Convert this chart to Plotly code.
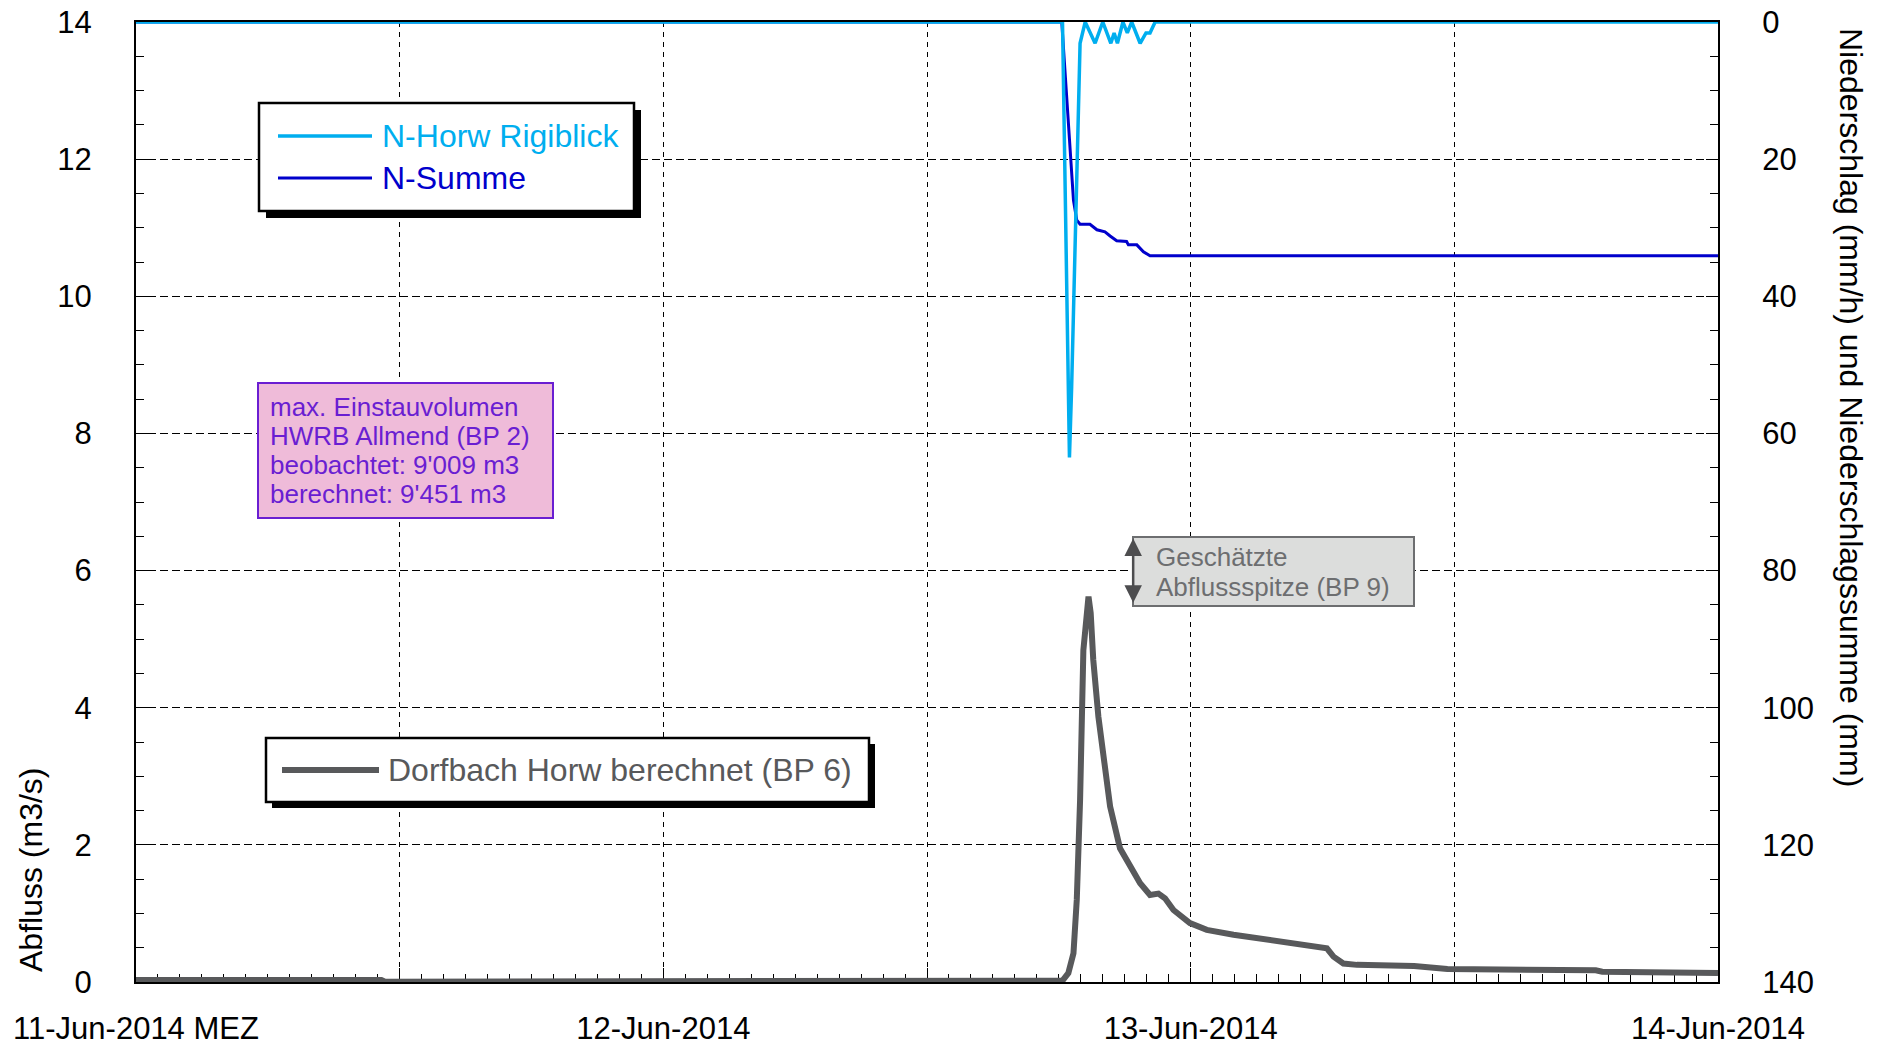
import plotly.graph_objects as go

# Abfluss Dorfbach Horw berechnet (BP 6) [m3/s]
q_time = [
    "2014-06-11 00:00", "2014-06-11 11:10", "2014-06-11 11:20", "2014-06-12 18:00",
    "2014-06-12 18:10", "2014-06-12 18:26", "2014-06-12 18:40", "2014-06-12 18:49",
    "2014-06-12 18:58", "2014-06-12 19:07", "2014-06-12 19:21", "2014-06-12 19:27",
    "2014-06-12 19:34", "2014-06-12 19:48", "2014-06-12 20:02", "2014-06-12 20:20",
    "2014-06-12 20:47", "2014-06-12 21:15", "2014-06-12 21:42", "2014-06-12 22:09",
    "2014-06-12 22:32", "2014-06-12 22:50", "2014-06-12 23:13", "2014-06-12 23:58",
    "2014-06-13 00:44", "2014-06-13 01:57", "2014-06-13 03:46", "2014-06-13 05:17",
    "2014-06-13 06:12", "2014-06-13 06:30", "2014-06-13 06:57", "2014-06-13 07:34",
    "2014-06-13 10:10", "2014-06-13 11:41", "2014-06-13 13:41", "2014-06-13 15:22",
    "2014-06-13 18:26", "2014-06-13 18:44", "2014-06-13 22:06", "2014-06-13 22:25",
    "2014-06-14 00:00",
]
q_val = [
    0.03, 0.03, 0.005, 0.005,
    0.02, 0.13, 0.42, 1.20,
    2.65, 4.84, 5.62, 5.38,
    4.70, 3.87, 3.24, 2.56,
    1.95, 1.68, 1.44, 1.27,
    1.29, 1.22, 1.05, 0.86,
    0.76, 0.69, 0.61, 0.54,
    0.49, 0.37, 0.27, 0.25,
    0.235, 0.19, 0.19, 0.17,
    0.17, 0.15, 0.15, 0.13,
    0.13,
]

# N-Horw Rigiblick [mm/h]
n_time = [
    "2014-06-11 00:00", "2014-06-12 18:10", "2014-06-12 18:29", "2014-06-12 18:35",
    "2014-06-12 18:58", "2014-06-12 19:12", "2014-06-12 19:39", "2014-06-12 20:00",
    "2014-06-12 20:22", "2014-06-12 20:31", "2014-06-12 20:40", "2014-06-12 20:55",
    "2014-06-12 21:07", "2014-06-12 21:19", "2014-06-12 21:42", "2014-06-12 21:58",
    "2014-06-12 22:09", "2014-06-12 22:23", "2014-06-14 00:00",
]
n_val = [
    0, 0, 63.5, 53.2,
    3.1, 0, 3.1, 0,
    3.1, 1.6, 3.1, 0,
    1.6, 0, 3.1, 1.6,
    1.6, 0, 0,
]

# N-Summe [mm]
s_time = [
    "2014-06-11 00:00", "2014-06-12 18:08", "2014-06-12 18:40", "2014-06-12 18:49",
    "2014-06-12 18:58", "2014-06-12 19:25", "2014-06-12 19:44", "2014-06-12 20:06",
    "2014-06-12 20:20", "2014-06-12 20:38", "2014-06-12 21:05", "2014-06-12 21:10",
    "2014-06-12 21:33", "2014-06-12 21:51", "2014-06-12 22:09", "2014-06-14 00:00",
]
s_val = [
    0, 0, 26.0, 28.9,
    29.5, 29.5, 30.3, 30.6,
    31.2, 31.9, 32.0, 32.5,
    32.5, 33.5, 34.1, 34.1,
]

x_ticks = ["2014-06-11 00:00", "2014-06-11 12:00", "2014-06-12 00:00", "2014-06-12 12:00",
           "2014-06-13 00:00", "2014-06-13 12:00", "2014-06-14 00:00"]
x_ticktext = ["11-Jun-2014 MEZ", "", "12-Jun-2014", "", "13-Jun-2014", "", "14-Jun-2014"]

# geschaetzte Abflussspitze (BP 9), Pfeil
peak_time = "2014-06-12 21:23"
peak_lo, peak_hi = 5.53, 6.49

LIGHT = "#00AEEF"
DARK = "#0000CC"
GRAY = "#58595B"
PURPLE = "#6A1ED2"
FONT = "Liberation Sans, Arial, sans-serif"

# plot area in pixels, used to place boxes
L, R, T, B = 136, 1718, 22, 982


def px(x):
    return (x - L) / (R - L)


def py(y):
    return (B - y) / (B - T)


fig = go.Figure()
fig.add_trace(go.Scatter(x=q_time, y=q_val, mode="lines", name="Dorfbach Horw berechnet (BP 6)",
                         line=dict(color=GRAY, width=6), showlegend=False))
fig.add_trace(go.Scatter(x=s_time, y=s_val, mode="lines", name="N-Summe", yaxis="y2",
                         line=dict(color=DARK, width=3), showlegend=False))
fig.add_trace(go.Scatter(x=n_time, y=n_val, mode="lines", name="N-Horw Rigiblick", yaxis="y2",
                         line=dict(color=LIGHT, width=3.5), showlegend=False))

shapes = []
annotations = []


def box(x0, y0, x1, y1, fill, border, width, shadow=0):
    if shadow:
        shapes.append(dict(type="rect", xref="paper", yref="paper",
                           x0=px(x0 + shadow), x1=px(x1 + shadow), y0=py(y0 + shadow), y1=py(y1 + shadow),
                           fillcolor="black", line=dict(width=0)))
    shapes.append(dict(type="rect", xref="paper", yref="paper",
                       x0=px(x0), x1=px(x1), y0=py(y0), y1=py(y1),
                       fillcolor=fill, line=dict(color=border, width=width)))


def label(x, y, text, color, size):
    annotations.append(dict(xref="paper", yref="paper", x=px(x), y=py(y), text=text,
                            showarrow=False, xanchor="left", yanchor="middle",
                            font=dict(family=FONT, size=size, color=color)))


def sample(x0, x1, y, color, width):
    shapes.append(dict(type="line", xref="paper", yref="paper", x0=px(x0), x1=px(x1),
                       y0=py(y), y1=py(y), line=dict(color=color, width=width)))


# legend N
box(259, 103, 634, 211, "white", "black", 2.5, shadow=7)
sample(278, 372, 136, LIGHT, 3.5)
sample(278, 372, 178, DARK, 3)
label(380, 136, "N-Horw Rigiblick", LIGHT, 32)
label(380, 178, "N-Summe", DARK, 32)

# legend Abfluss
box(266, 738, 869, 802, "white", "black", 2.5, shadow=6)
sample(282, 379, 770, GRAY, 6)
label(386, 770, "Dorfbach Horw berechnet (BP 6)", GRAY, 32)

# Einstauvolumen box
box(258, 383, 553, 518, "#EFBBD9", PURPLE, 2)
for i, t in enumerate(["max. Einstauvolumen", "HWRB Allmend (BP 2)",
                       "beobachtet: 9'009 m3", "berechnet: 9'451 m3"]):
    label(268, 407 + 29 * i, t, PURPLE, 26)

# Abflussspitze box
box(1133, 537, 1414, 606, "#DCDDDC", "#6D6E70", 2)
label(1154, 557, "Geschätzte", "#6D6E70", 26)
label(1154, 587, "Abflussspitze (BP 9)", "#6D6E70", 26)
annotations.append(dict(x=peak_time, y=peak_lo, ax=peak_time, ay=peak_hi, xref="x", yref="y",
                        axref="x", ayref="y", text="", showarrow=True, arrowside="end+start",
                        arrowhead=2, arrowsize=1.4, arrowwidth=2.5, arrowcolor="#4D4D4F",
                        standoff=0, startstandoff=0))

# axis titles
annotations.append(dict(xref="paper", yref="paper", x=px(31), y=py(870), text="Abfluss (m3/s)",
                        textangle=-90, showarrow=False, xanchor="center", yanchor="middle",
                        font=dict(family=FONT, size=32, color="black")))
annotations.append(dict(xref="paper", yref="paper", x=px(1851), y=py(407),
                        text="Niederschlag (mm/h) und Niederschlagssumme (mm)",
                        textangle=90, showarrow=False, xanchor="center", yanchor="middle",
                        font=dict(family=FONT, size=32, color="black")))

fig.update_layout(
    width=1885, height=1045, autosize=False,
    margin=dict(l=L, r=1885 - R, t=T, b=1045 - B, autoexpand=False),
    plot_bgcolor="white", paper_bgcolor="white",
    font=dict(family=FONT, size=31, color="black"),
    shapes=shapes, annotations=annotations,
    xaxis=dict(
        type="date", range=["2014-06-11 00:00", "2014-06-14 00:00"],
        tickmode="array", tickvals=x_ticks, ticktext=x_ticktext,
        ticks="inside", ticklen=14, tickwidth=1, tickcolor="black",
        tickfont=dict(size=31), ticklabelstandoff=18, automargin=False,
        showline=True, linecolor="black", linewidth=2, mirror=True,
        showgrid=True, gridcolor="black", gridwidth=1, griddash="5px,5px",
        minor=dict(tickmode="linear", tick0="2014-06-11 00:00", dtick=3600000,
                   ticks="inside", ticklen=8, tickcolor="black", tickwidth=1, showgrid=False),
        zeroline=False, layer="below traces",
    ),
    yaxis=dict(
        range=[0, 14], dtick=2, tick0=0,
        ticks="inside", ticklen=12, tickwidth=1, tickcolor="black",
        tickfont=dict(size=31), ticklabelstandoff=36, automargin=False,
        showline=True, linecolor="black", linewidth=2,
        showgrid=True, gridcolor="black", gridwidth=1, griddash="8px,4px",
        minor=dict(dtick=0.5, ticks="inside", ticklen=8, tickcolor="black", tickwidth=1, showgrid=False),
        zeroline=False, layer="below traces",
    ),
    yaxis2=dict(
        overlaying="y", side="right", range=[140, 0], dtick=20, tick0=0,
        ticks="inside", ticklen=12, tickwidth=1, tickcolor="black",
        tickfont=dict(size=31), ticklabelstandoff=36, automargin=False,
        showline=True, linecolor="black", linewidth=2,
        showgrid=False,
        minor=dict(dtick=5, ticks="inside", ticklen=8, tickcolor="black", tickwidth=1, showgrid=False),
        zeroline=False, layer="below traces",
    ),
)

fig.write_html("out.html", config={"displayModeBar": False},
               post_script="document.body.style.margin='0';document.body.style.overflow='hidden';")
